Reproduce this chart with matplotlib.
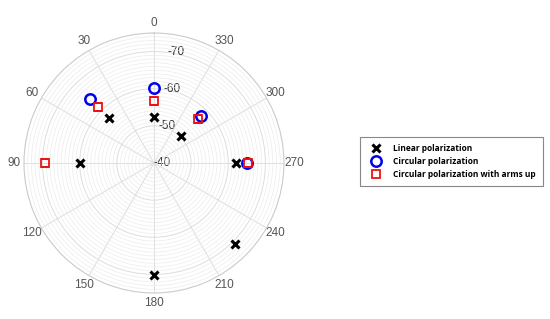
import numpy as np
from matplotlib import pyplot as plt

plt.rcParams['axes.unicode_minus'] = False
plt.rcParams['font.family'] = ['Liberation Sans', 'DejaVu Sans']

# angles in degrees, received level in dB
lin_ang = [0, 45, 90, 180, 225, 270, 315]
lin_db = [-52.3, -57.0, -60.0, -70.2, -70.7, -62.2, -50.3]

circ_ang = [0, 45, 270, 315]
circ_db = [-60.1, -64.3, -65.0, -57.9]

arms_ang = [0, 45, 90, 270, 315]
arms_db = [-56.6, -61.2, -69.4, -65.4, -56.9]

rticks = [-40, -50, -60, -70]
theta_ticks = list(range(0, 360, 30))

fig = plt.figure(figsize=(5.5, 3.19), dpi=100)
ax = fig.add_axes([0.0436, 0.0815, 0.4727, 0.815], projection='polar')
ax.set_theta_zero_location('N')
ax.set_theta_direction(1)

ax.plot(np.radians(lin_ang), lin_db, 'x', color='black', ms=6, mew=2.2,
        linestyle='none', label='Linear polarization')
ax.plot(np.radians(circ_ang), circ_db, 'o', color='#0000ee', mfc='none', ms=7.5, mew=1.8,
        linestyle='none', label='Circular polarization')
ax.plot(np.radians(arms_ang), arms_db, 's', color='#ee1111', mfc='none', ms=6, mew=1.3,
        linestyle='none', label='Circular polarization with arms up')

ax.set_rlim(-40, -75)
ax.set_rticks(rticks)
ax.set_yticks(np.arange(-75, -39, 1), minor=True)
ax.set_rlabel_position(353)
ax.set_thetagrids(theta_ticks, [str(t) for t in theta_ticks])
ax.tick_params(axis='x', labelsize=8.5, colors='#555555', pad=-3)
ax.tick_params(axis='y', labelsize=8.5, colors='#333333')
for t in ax.get_yticklabels():
    t.set_verticalalignment('center')
ax.grid(True, which='major', color='#dddddd', lw=0.7)
ax.grid(True, which='minor', axis='y', color='#ececec', lw=0.5)
ax.spines['polar'].set_color('#cccccc')
ax.spines['polar'].set_linewidth(0.8)

leg = fig.legend(loc='upper left', bbox_to_anchor=(0.655, 0.572), fancybox=False,
                 edgecolor='#888888', framealpha=1, borderpad=0.9, handletextpad=1.0,
                 labelspacing=0.45, borderaxespad=0,
                 prop={'family': 'Open Sans', 'weight': 'bold', 'size': 6})
leg.get_frame().set_linewidth(0.8)

plt.savefig("out.png")
